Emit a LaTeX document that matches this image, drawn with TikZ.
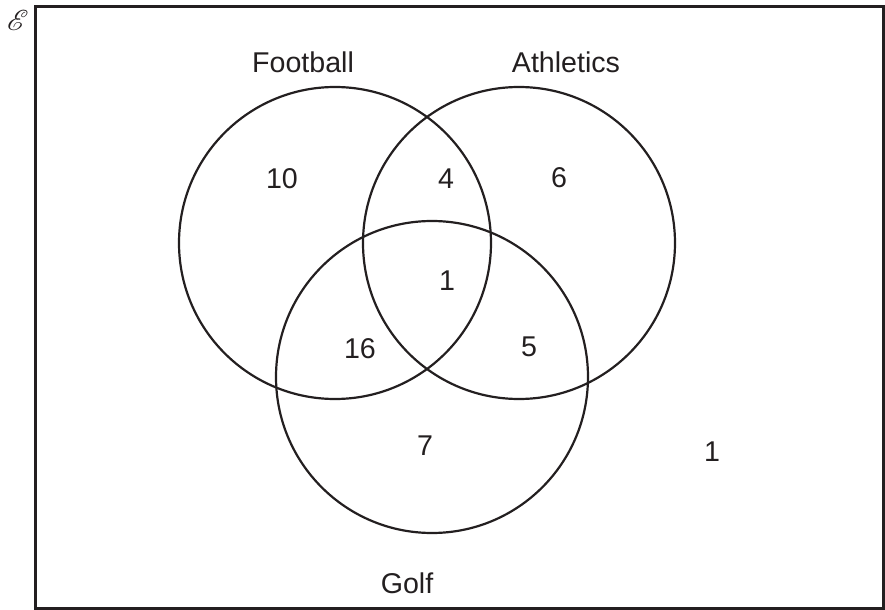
\documentclass[tikz,border=0pt]{standalone}
\usepackage{fontspec}
\setmainfont{Liberation Sans}
\usepackage{mathrsfs}
\definecolor{ink}{HTML}{231F20}

\begin{document}
\begin{tikzpicture}[x=0.5pt,y=-0.5pt,ink,
    set/.style={draw,circle,line width=1.1pt,inner sep=0pt,minimum size=156pt},
    lbl/.style={font=\fontsize{14.3}{17}\selectfont}]
  \useasboundingbox (0,0) rectangle (885,610);
  \draw[line width=1.5pt] (35,7) rectangle (883,608);
  \node[font=\fontsize{15}{18}\selectfont,inner sep=0pt] (univ) at (18,20) {$\mathscr{E}$};
  \node[set] (football) at (335,243) {};
  \node[set] (athletics) at (519,243) {};
  \node[set] (golf) at (432,377) {};
  \node[lbl] (fname) at (303,62) {Football};
  \node[lbl] (aname) at (566,62) {Athletics};
  \node[lbl] (gname) at (407,583) {Golf};
  \node[lbl] (fonly) at (282,179) {10};
  \node[lbl] (fa) at (446,179) {4};
  \node[lbl] (aonly) at (559,178) {6};
  \node[lbl] (fag) at (447,281) {1};
  \node[lbl] (fg) at (360,349) {16};
  \node[lbl] (ag) at (529,347) {5};
  \node[lbl] (gonly) at (425,446) {7};
  \node[lbl] (none) at (712,452) {1};
\end{tikzpicture}
\end{document}
